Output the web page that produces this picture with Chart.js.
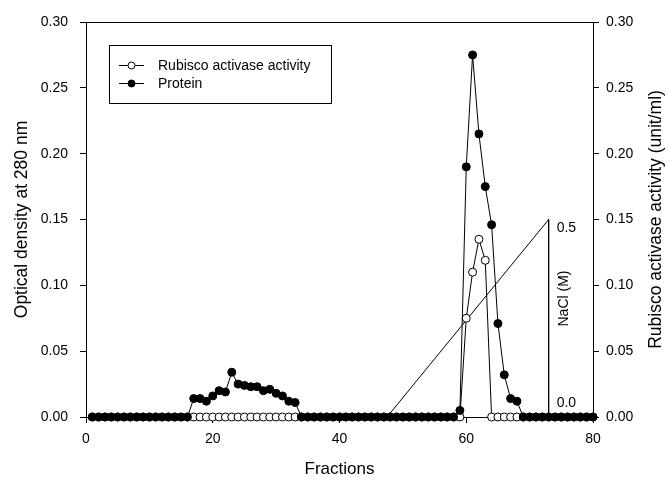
<!DOCTYPE html>
<html>
<head>
<meta charset="utf-8">
<script src="https://cdn.jsdelivr.net/npm/chart.js@4/dist/chart.umd.min.js"></script>
<style>
  html, body { margin: 0; padding: 0; background: #fff; }
  #wrap { width: 669px; height: 481px; }
</style>
</head>
<body>
<div id="wrap"><canvas id="c" width="669" height="481"></canvas></div>
<script>
// ---- data ----
const fractions = [1,2,3,4,5,6,7,8,9,10,11,12,13,14,15,16,17,18,19,20,
  21,22,23,24,25,26,27,28,29,30,31,32,33,34,35,36,37,38,39,40,
  41,42,43,44,45,46,47,48,49,50,51,52,53,54,55,56,57,58,59,60,
  61,62,63,64,65,66,67,68,69,70,71,72,73,74,75,76,77,78,79,80];

const protein = [0,0,0,0,0,0,0,0,0,0,0,0,0,0,0,0,
  0.014,0.014,0.012,0.016,0.020,0.019,0.034,0.025,0.024,0.023,0.023,0.020,0.021,0.018,0.016,0.012,0.011,
  0,0,0,0,0,0,0,0,0,0,0,0,0,0,0,0,0,0,0,0,0,0,0,0,0,
  0.005,0.190,0.275,0.215,0.175,0.146,0.071,0.032,0.014,0.012,
  0,0,0,0,0,0,0,0,0,0,0,0];

const activity = [0,0,0,0,0,0,0,0,0,0,0,0,0,0,0,0,
  0,0,0,0,0,0,0,0,0,0,0,0,0,0,0,0,0,
  0,0,0,0,0,0,0,0,0,0,0,0,0,0,0,0,0,0,0,0,0,0,0,0,0,
  0,0.075,0.110,0.135,0.119,0,0,0,0,0,
  0,0,0,0,0,0,0,0,0,0,0,0];

const naclFraction = [47.5, 73, 73];
const naclLevel = [0, 0.15, 0];
const naclLabels = ["0.5", "0.0", "NaCl (M)"];

const xTickValues = [0, 20, 40, 60, 80];
const yTickValues = [0, 0.05, 0.10, 0.15, 0.20, 0.25, 0.30];

const seriesNames = ["Rubisco activase activity", "Protein"];
const axisTitles = ["Fractions", "Optical density at 280 nm", "Rubisco activase activity (unit/ml)"];

// ---- build ----
const FONT = "'Liberation Sans', Arial, Helvetica, sans-serif";
const toXY = (xs, ys) => xs.map((x, i) => ({ x: x, y: ys[i] }));

const legendPlugin = {
  id: 'customLegend',
  afterDatasetsDraw(chart) {
    const { ctx, chartArea } = chart;
    const left = chartArea.left + 23, top = chartArea.top + 23;
    const w = 222, h = 58;
    ctx.save();
    ctx.strokeStyle = '#000';
    ctx.lineWidth = 1;
    ctx.strokeRect(left + 0.5, top + 0.5, w, h);
    const rows = [
      { name: seriesNames[0], fill: '#fff', y: top + 20 },
      { name: seriesNames[1], fill: '#000', y: top + 38 }
    ];
    ctx.font = '14px ' + FONT;
    ctx.textBaseline = 'middle';
    ctx.textAlign = 'left';
    rows.forEach(r => {
      ctx.beginPath();
      ctx.moveTo(left + 10, r.y + 0.5);
      ctx.lineTo(left + 35, r.y + 0.5);
      ctx.stroke();
      ctx.beginPath();
      ctx.arc(left + 22.5, r.y + 0.5, 3.5, 0, Math.PI * 2);
      ctx.fillStyle = r.fill;
      ctx.fill();
      ctx.stroke();
      ctx.fillStyle = '#000';
      ctx.fillText(r.name, left + 49, r.y + 1);
    });
    ctx.restore();
  }
};

const framePlugin = {
  id: 'frameAndNacl',
  afterDraw(chart) {
    const { ctx, chartArea, scales } = chart;
    ctx.save();
    ctx.strokeStyle = '#000';
    ctx.lineWidth = 1;
    ctx.beginPath();
    const t = Math.round(chartArea.top) + 0.5;
    ctx.moveTo(chartArea.left, t);
    ctx.lineTo(chartArea.right, t);
    ctx.stroke();
    // right axis title, reading bottom-to-top
    ctx.fillStyle = '#000';
    ctx.save();
    ctx.font = '17.5px ' + FONT;
    ctx.textAlign = 'center';
    ctx.textBaseline = 'middle';
    ctx.translate(chart.width - 13, (chartArea.top + chartArea.bottom) / 2);
    ctx.rotate(-Math.PI / 2);
    ctx.fillText(axisTitles[2], 0, 0);
    ctx.restore();
    // NaCl gradient labels
    const xs = scales.x, ys = scales.y;
    const lx = xs.getPixelForValue(naclFraction[1]) + 8;
    ctx.font = '14px ' + FONT;
    ctx.textAlign = 'left';
    ctx.textBaseline = 'middle';
    ctx.fillText(naclLabels[0], lx, ys.getPixelForValue(naclLevel[1]) + 9);
    ctx.fillText(naclLabels[1], lx, ys.getPixelForValue(naclLevel[2]) - 14);
    ctx.translate(lx + 8, ys.getPixelForValue(0.09));
    ctx.rotate(-Math.PI / 2);
    ctx.textAlign = 'center';
    ctx.fillText(naclLabels[2], 0, 0);
    ctx.restore();
  }
};

const axisGrid = { display: true, drawOnChartArea: false, drawTicks: true, tickLength: 6, color: '#000', lineWidth: 1 };
const axisBorder = { display: true, color: '#000', width: 1 };

new Chart(document.getElementById('c'), {
  type: 'line',
  data: {
    datasets: [
      {
        label: seriesNames[1],
        data: toXY(fractions, protein),
        yAxisID: 'y',
        borderColor: '#000', borderWidth: 1,
        pointRadius: 4, pointBorderWidth: 1,
        pointBackgroundColor: '#000', pointBorderColor: '#000',
        tension: 0, clip: false, order: 0
      },
      {
        label: seriesNames[0],
        data: toXY(fractions, activity),
        yAxisID: 'y2',
        borderColor: '#000', borderWidth: 1,
        pointRadius: 4, pointBorderWidth: 1,
        pointBackgroundColor: '#fff', pointBorderColor: '#000',
        tension: 0, clip: false, order: 1
      },
      {
        label: 'NaCl',
        data: toXY(naclFraction, naclLevel),
        yAxisID: 'y',
        borderColor: '#000', borderWidth: 1,
        pointRadius: 0, tension: 0, clip: false, order: 2
      }
    ]
  },
  options: {
    responsive: false,
    animation: false,
    devicePixelRatio: 1,
    layout: { padding: { top: 22, left: 0, right: 0, bottom: 0 } },
    plugins: { legend: { display: false }, tooltip: { enabled: false } },
    scales: {
      x: {
        type: 'linear', position: 'bottom', min: 0, max: 80,
        afterBuildTicks: s => { s.ticks = xTickValues.map(v => ({ value: v })); },
        afterFit: s => { s.height = 64; },
        grid: axisGrid, border: axisBorder,
        ticks: { color: '#000', font: { family: FONT, size: 14 }, padding: 8, maxRotation: 0 },
        title: { display: true, text: axisTitles[0], color: '#000', font: { family: FONT, size: 17 }, padding: { top: 0, bottom: 1 } }
      },
      y: {
        type: 'linear', position: 'left', min: 0, max: 0.3,
        afterBuildTicks: s => { s.ticks = yTickValues.map(v => ({ value: v })); },
        afterFit: s => { s.width = 86; },
        grid: axisGrid, border: axisBorder,
        ticks: { color: '#000', font: { family: FONT, size: 14 }, padding: 12, callback: v => Number(v).toFixed(2) },
        title: { display: true, text: axisTitles[1], color: '#000', font: { family: FONT, size: 17.5 }, padding: { top: 12, bottom: 0 } }
      },
      y2: {
        type: 'linear', position: 'right', min: 0, max: 0.3,
        afterBuildTicks: s => { s.ticks = yTickValues.map(v => ({ value: v })); },
        afterFit: s => { s.width = 76; },
        grid: axisGrid, border: axisBorder,
        ticks: { color: '#000', font: { family: FONT, size: 14 }, padding: 7, callback: v => Number(v).toFixed(2) },
        title: { display: false }
      }
    }
  },
  plugins: [legendPlugin, framePlugin]
});
</script>
</body>
</html>
